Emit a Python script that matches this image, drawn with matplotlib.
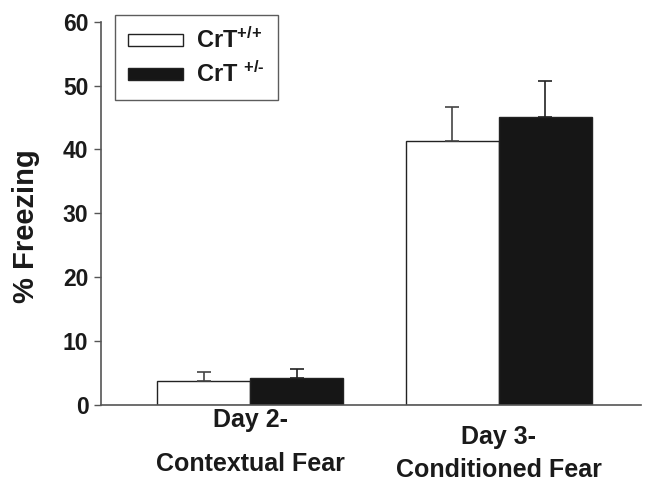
import numpy as np
import matplotlib.pyplot as plt
from matplotlib.patches import Patch

plt.rcParams['font.family'] = ['Liberation Sans', 'DejaVu Sans']
plt.rcParams['font.weight'] = 'bold'
plt.rcParams['mathtext.fontset'] = 'custom'
plt.rcParams['mathtext.rm'] = 'Liberation Sans:bold'
plt.rcParams['mathtext.it'] = 'Liberation Sans:bold'
plt.rcParams['mathtext.bf'] = 'Liberation Sans:bold'
plt.rcParams['mathtext.default'] = 'rm'

groups = ['Day 2-\nContextual Fear', 'Day 3-\nConditioned Fear']
wt_mean = [3.7, 41.3]
wt_err = [1.5, 5.3]
het_mean = [4.2, 45.0]
het_err = [1.4, 5.7]
series = ['CrT$^{{+}/{+}}$', 'CrT $^{{+}/\u2010}$']

fig = plt.figure(figsize=(6.47, 4.82), dpi=100)
ax = fig.add_axes([0.156, 0.16, 0.834, 0.795])

x = np.arange(len(groups))
w = 0.375
ax.bar(x, wt_mean, width=-w, align='edge', color='white', edgecolor='#222222', linewidth=1.0)
ax.bar(x, het_mean, width=w, align='edge', color='#161616', edgecolor='#222222', linewidth=1.0)
ax.errorbar(x - w / 2, wt_mean, yerr=[[0, 0], wt_err], fmt='none', ecolor='#444444',
            elinewidth=1.2, capsize=5, capthick=1.2)
ax.errorbar(x + w / 2, het_mean, yerr=[[0, 0], het_err], fmt='none', ecolor='#222222',
            elinewidth=1.2, capsize=5, capthick=1.2)

ax.set_ylim(0, 60)
ax.set_xlim(-0.6, 1.57)
ax.set_yticks(range(0, 61, 10))
ax.tick_params(axis='y', direction='out', length=5, width=1, labelsize=16.5, colors='#555555',
               labelcolor='#1a1a1a', pad=4)
ax.set_xticks([])
for s in ['top', 'right']:
    ax.spines[s].set_visible(False)
for s in ['left', 'bottom']:
    ax.spines[s].set_color('#555555')
    ax.spines[s].set_linewidth(1.2)

ax.set_ylabel('% Freezing', fontsize=21, fontweight='bold', color='#1a1a1a')
ax.yaxis.set_label_coords(-0.112, 0.467)

# category labels under the bars
label_y = [(-2.4, -9.3), (-5.0, -10.2)]
for i, g in enumerate(groups):
    top, bottom = g.split('\n')
    ax.text(x[i], label_y[i][0], top, ha='center', va='center', fontsize=18,
            fontweight='bold', color='#1a1a1a')
    ax.text(x[i], label_y[i][1], bottom, ha='center', va='center', fontsize=18,
            fontweight='bold', color='#1a1a1a')

handles = [Patch(facecolor='white', edgecolor='#222222', linewidth=1.0),
           Patch(facecolor='#161616', edgecolor='#222222', linewidth=1.0)]
leg = ax.legend(handles, series, loc='upper left', bbox_to_anchor=(0.026, 1.018),
                fontsize=17, frameon=True, fancybox=False, edgecolor='#333333',
                handlelength=2.35, handleheight=0.42, borderpad=0.55, labelspacing=0.35,
                handletextpad=0.55, borderaxespad=0)
leg.get_frame().set_linewidth(1.0)
for t in leg.get_texts():
    t.set_fontweight('bold')
    t.set_color('#1a1a1a')

fig.savefig('out.png', dpi=100)
